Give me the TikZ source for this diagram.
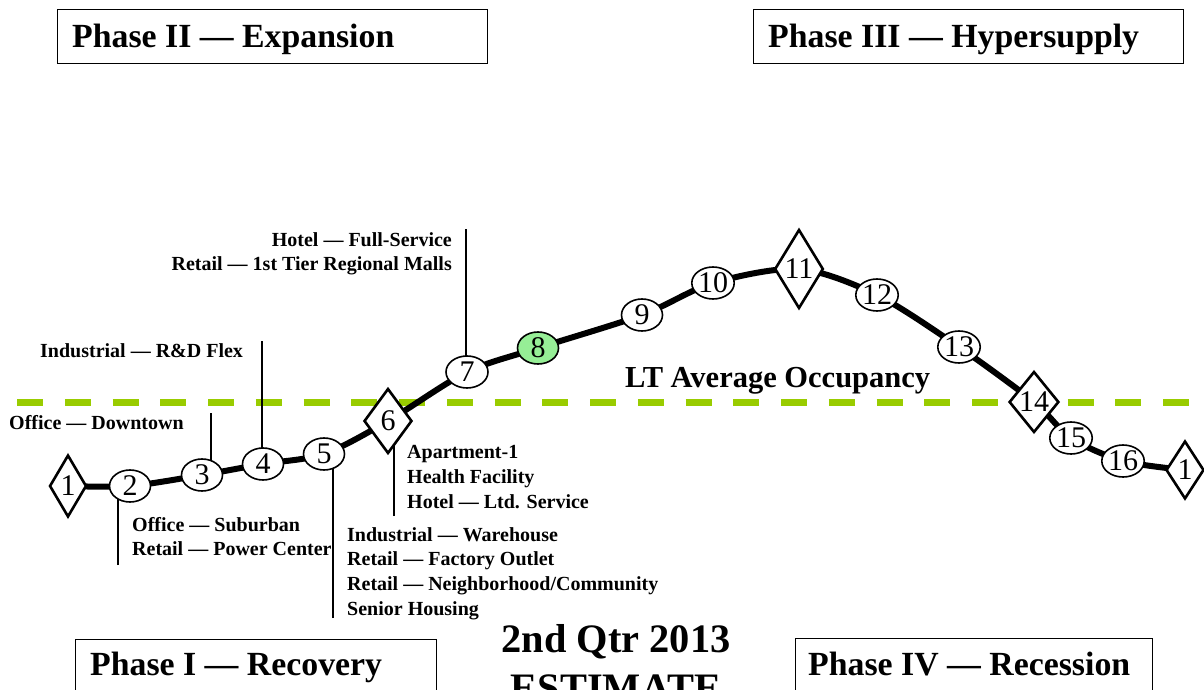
\documentclass[tikz,border=0pt]{standalone}
\usepackage{fontspec}
\setmainfont{Liberation Serif}
\usetikzlibrary{shapes.geometric}
\definecolor{avggreen}{RGB}{153,204,0}
\definecolor{peakgreen}{RGB}{150,238,150}
\begin{document}
\begin{tikzpicture}[x=1pt,y=-1pt,
  ell/.style={ellipse,draw,line width=1.6pt,fill=white,minimum width=41pt,minimum height=32pt,inner sep=0pt,font=\fontsize{30}{30}\selectfont},
  dia/.style={diamond,draw,line width=2.6pt,fill=white,inner sep=0pt,font=\fontsize{30}{30}\selectfont},
  lbl/.style={anchor=base west,inner sep=0pt,font=\fontsize{20}{24}\selectfont\bfseries},
  lblr/.style={anchor=base east,inner sep=0pt,font=\fontsize{20}{24}\selectfont\bfseries},
  phasebox/.style={draw,line width=1.4pt,anchor=north west,inner sep=0pt},
  phasetext/.style={anchor=base west,inner sep=0pt,font=\fontsize{33.8}{34}\selectfont\bfseries},
  bigtext/.style={anchor=base,inner sep=0pt,font=\fontsize{40.4}{40}\selectfont\bfseries},
  callout/.style={line width=1.6pt},
  cycle/.style={line width=6pt,line join=round}]
\useasboundingbox (0,0) rectangle (1204,690);
\clip (0,0) rectangle (1204,690);

% LT average occupancy line
\coordinate (ga) at (17,402);
\coordinate (gb) at (1204,402);
\draw[avggreen,line width=7pt,dash pattern=on 26pt off 21.75pt] (ga) -- (gb);
\node[anchor=base west,inner sep=0pt,font=\fontsize{30.5}{30}\selectfont\bfseries] (ltavg) at (625,387) {LT Average Occupancy};

% marker positions
\coordinate (p1) at (68,486);
\coordinate (p2) at (130,486);
\coordinate (p3) at (202,475);
\coordinate (p4) at (263,464);
\coordinate (p5) at (324,454);
\coordinate (p6) at (388,421);
\coordinate (p7) at (467,372);
\coordinate (p8) at (538,348);
\coordinate (p9) at (642,315);
\coordinate (p10) at (713,283);
\coordinate (p11) at (799,269);
\coordinate (p12) at (877,295);
\coordinate (p13) at (959,347);
\coordinate (p14) at (1034,402);
\coordinate (p15) at (1071,438);
\coordinate (p16) at (1123,461);
\coordinate (p17) at (1185,470);

% cycle curve
\draw[cycle] plot[smooth,tension=0.5] coordinates {(p1) (p2) (p3) (p4) (p5) (p6) (p7) (p8) (p9) (p10) (p11) (p12) (p13) (p14) (p15) (p16) (p17)};

% callout lines
\coordinate (c2) at (118,565);
\coordinate (c3) at (211,413);
\coordinate (c4) at (262,341);
\coordinate (c5) at (333,618);
\coordinate (c6) at (394,516);
\coordinate (c7) at (466,229);
\draw[callout] (c2) -- (c2 |- p2);
\draw[callout] (c3) -- (c3 |- p3);
\draw[callout] (c4) -- (c4 |- p4);
\draw[callout] (c5) -- (c5 |- p5);
\draw[callout] (c6) -- (c6 |- p6);
\draw[callout] (c7) -- (c7 |- p7);

% markers
\node[dia,minimum width=37pt,minimum height=62pt] (m1) at (p1) {1};
\node[ell] (m2) at (p2) {2};
\node[ell] (m3) at (p3) {3};
\node[ell] (m4) at (p4) {4};
\node[ell] (m5) at (p5) {5};
\node[dia,minimum width=48pt,minimum height=65pt] (m6) at (p6) {6};
\node[ell,minimum width=42pt] (m7) at (p7) {7};
\node[ell,fill=peakgreen] (m8) at (p8) {8};
\node[ell] (m9) at (p9) {9};
\node[ell] (m10) at (p10) {10};
\node[dia,minimum width=45pt,minimum height=79pt] (m11) at (p11) {11};
\node[ell] (m12) at (p12) {12};
\node[ell] (m13) at (p13) {13};
\node[dia,minimum width=46pt,minimum height=61pt] (m14) at (p14) {14};
\node[ell] (m15) at (p15) {15};
\node[ell] (m16) at (p16) {16};
\node[dia,minimum width=38pt,minimum height=58pt] (m17) at (p17) {1};

% property labels
\node[lbl] (l3) at (9,429) {Office — Downtown};
\node[lbl] (l4) at (40,357) {Industrial — R\&D Flex};
\node[lblr] (l7a) at (452,246) {Hotel — Full-Service};
\node[lblr] (l7b) at (452,270) {Retail — 1st Tier Regional Malls};
\node[lbl] (l2a) at (132,531) {Office — Suburban};
\node[lbl] (l2b) at (132,555) {Retail — Power Center};
\node[lbl] (l6a) at (407,458) {Apartment-1};
\node[lbl] (l6b) at (407,483) {Health Facility};
\node[lbl] (l6c) at (407,508) {Hotel — Ltd. Service};
\node[lbl] (l5a) at (347,541) {Industrial — Warehouse};
\node[lbl] (l5b) at (347,565) {Retail — Factory Outlet};
\node[lbl] (l5c) at (347,590) {Retail — Neighborhood/Community};
\node[lbl] (l5d) at (347,615) {Senior Housing};

% phase boxes
\node[phasebox,minimum width=430pt,minimum height=54pt] (b2) at (57,9) {};
\node[phasetext] (t2) at (72,48) {Phase II — Expansion};
\node[phasebox,minimum width=430pt,minimum height=54pt] (b3) at (753,9) {};
\node[phasetext] (t3) at (768,48) {Phase III — Hypersupply};
\node[phasebox,minimum width=361pt,minimum height=80pt] (b1) at (75,639) {};
\node[phasetext] (t1) at (90,675) {Phase I — Recovery};
\node[phasebox,minimum width=357pt,minimum height=80pt] (b4) at (795,638) {};
\node[phasetext] (t4) at (808,675) {Phase IV — Recession};

% estimate
\node[bigtext] (q) at (616,652) {2nd Qtr 2013};
\node[bigtext] (est) at (616,701) {ESTIMATE};
\end{tikzpicture}
\end{document}
